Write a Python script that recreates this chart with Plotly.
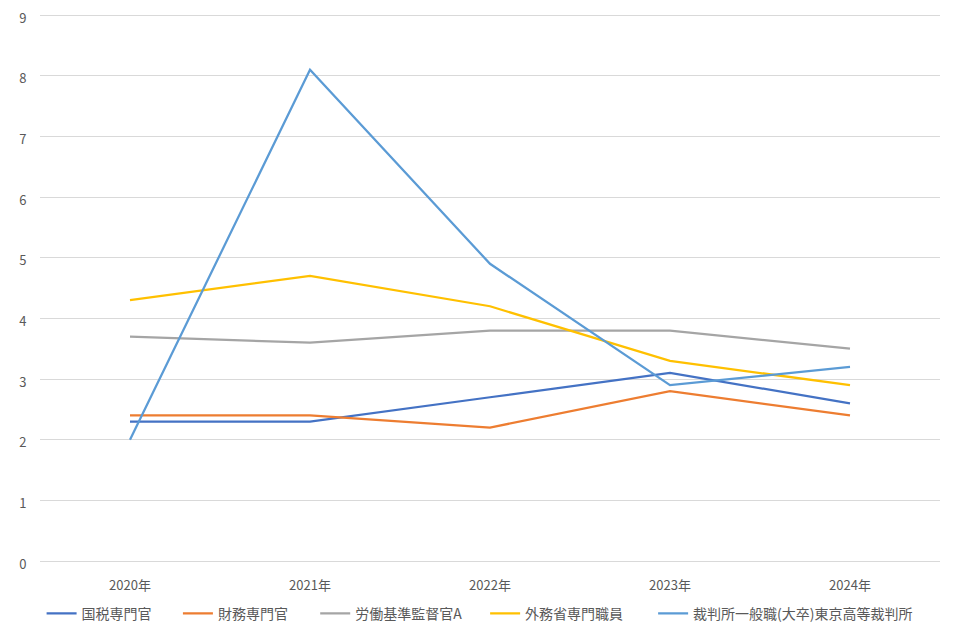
import plotly.graph_objects as go

years = ["2020年", "2021年", "2022年", "2023年", "2024年"]
kokuzei = [2.3, 2.3, 2.7, 3.1, 2.6]
zaimu = [2.4, 2.4, 2.2, 2.8, 2.4]
roudou = [3.7, 3.6, 3.8, 3.8, 3.5]
gaimu = [4.3, 4.7, 4.2, 3.3, 2.9]
saibansho = [2.0, 8.1, 4.9, 2.9, 3.2]

series = [
    ("国税専門官", kokuzei, "#4472C4"),
    ("財務専門官", zaimu, "#ED7D31"),
    ("労働基準監督官A", roudou, "#A5A5A5"),
    ("外務省専門職員", gaimu, "#FFC000"),
    ("裁判所一般職(大卒)東京高等裁判所", saibansho, "#5B9BD5"),
]
# left positions (container fraction) of each legend entry
legend_x = [0.035, 0.177, 0.320, 0.497, 0.672]

font_family = "Noto Sans CJK JP, Noto Sans, sans-serif"
fig = go.Figure()
layout_legends = {}
for i, (name, vals, color) in enumerate(series):
    key = "legend" if i == 0 else f"legend{i+1}"
    fig.add_trace(go.Scatter(x=years, y=vals, name=name, mode="lines",
                             line=dict(color=color, width=2.25),
                             legend=key))
    layout_legends[key] = dict(
        orientation="h", xref="container", yref="container",
        x=legend_x[i], xanchor="left", y=0.040, yanchor="middle",
        font=dict(size=14, color="#595959", family=font_family),
        itemwidth=30, bgcolor="rgba(0,0,0,0)",
    )

fig.update_layout(
    width=960, height=631,
    paper_bgcolor="white", plot_bgcolor="white",
    margin=dict(l=32, r=28, t=5, b=78, autoexpand=False),
    font=dict(family=font_family, color="#595959", size=12),
    xaxis=dict(type="category", range=[-0.5, 4.5], showgrid=False,
               showline=True, linecolor="#D9D9D9", linewidth=1,
               ticks="outside", ticklen=12, tickcolor="rgba(0,0,0,0)",
               automargin=False,
               tickfont=dict(size=13, color="#595959")),
    yaxis=dict(range=[0, 9.035], tickvals=list(range(0, 10)),
               showgrid=True, gridcolor="#D9D9D9",
               gridwidth=1, zeroline=False, showline=False,
               ticks="outside", ticklen=10, tickcolor="rgba(0,0,0,0)",
               automargin=False, ticklabeloverflow="allow",
               ticklabelshift=3,
               tickfont=dict(size=13, color="#595959")),
    showlegend=True,
    **layout_legends,
)

fig.write_html("out.html")
